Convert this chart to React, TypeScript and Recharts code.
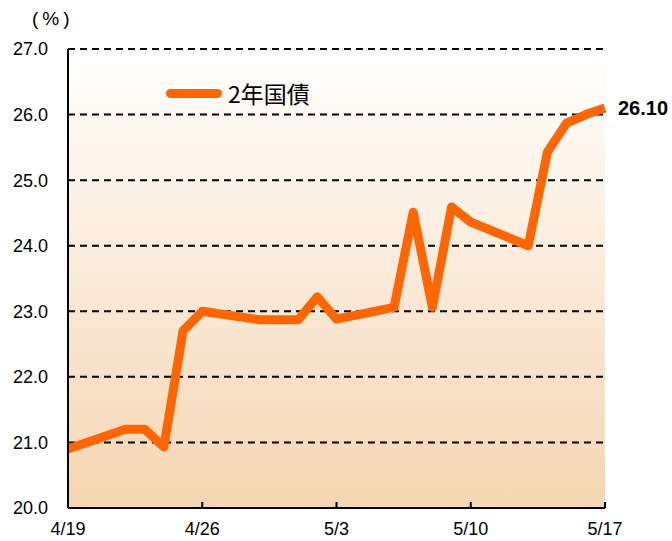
import React from "react";
import {
  LineChart,
  Line,
  XAxis,
  YAxis,
  CartesianGrid,
  LabelList,
} from "recharts";

// trading days (2024), value of 2-year yield (%)
const dates = [
  "4/19", "4/22", "4/23", "4/24", "4/25", "4/26",
  "4/29", "4/30", "5/1", "5/2", "5/3",
  "5/6", "5/7", "5/8", "5/9", "5/10",
  "5/13", "5/14", "5/15", "5/16", "5/17",
];
const yields = [
  20.9, 21.2, 21.2, 20.93, 22.7, 23.0,
  22.87, 22.87, 22.87, 23.22, 22.88,
  23.06, 24.51, 23.06, 24.59, 24.36,
  24.0, 25.43, 25.87, 26.0, 26.1,
];
const xTickLabels = ["4/19", "4/26", "5/3", "5/10", "5/17"];
const yTicks = [20, 21, 22, 23, 24, 25, 26, 27];

const dayOf = (md: string) => {
  const [m, d] = md.split("/").map(Number);
  const t = Date.UTC(2024, m - 1, d);
  return Math.round((t - Date.UTC(2024, 3, 19)) / 86400000);
};

const data = dates.map((d, i) => ({ day: dayOf(d), label: d, value: yields[i] }));
const xTicks = xTickLabels.map(dayOf);

const FONT = "'Liberation Sans', Arial, sans-serif";
const CJK = "'Noto Sans CJK JP', sans-serif";

const XTick = (props: any) => {
  const { x, y, payload, index } = props;
  const label = xTickLabels[xTicks.indexOf(payload.value)];
  return (
    <g>
      {index > 0 && <line x1={x} y1={y} x2={x} y2={y - 6} stroke="#000" strokeWidth={2} />}
      <text x={x} y={y + 27} textAnchor="middle" fontFamily={FONT} fontSize={18} fill="#000">
        {label}
      </text>
    </g>
  );
};

const LastLabel = (props: any) => {
  const { x, y, index, value } = props;
  if (index !== data.length - 1) return null;
  return (
    <text x={x + 13} y={y + 7} fontFamily={FONT} fontSize={20} fontWeight="bold" fill="#000">
      {Number(value).toFixed(2)}
    </text>
  );
};

export default function App() {
  return (
    <div style={{ position: "absolute", left: 0, top: 0, width: 672, height: 541 }}>
      <LineChart
        width={672}
        height={541}
        data={data}
        margin={{ top: 49, right: 67, left: 0, bottom: 0 }}
      >
        <defs>
          <linearGradient id="bg" x1="0" y1="0" x2="0" y2="1">
            <stop offset="0%" stopColor="#FFFFFF" />
            <stop offset="100%" stopColor="#F5D5B2" />
          </linearGradient>
        </defs>
        <CartesianGrid
          vertical={false}
          stroke="#000"
          strokeWidth={2}
          strokeDasharray="7 5"
          fill="url(#bg)"
          fillOpacity={1}
        />
        <XAxis
          dataKey="day"
          type="number"
          domain={[0, 28]}
          ticks={xTicks}
          height={33}
          axisLine={{ stroke: "#000", strokeWidth: 2 }}
          tickLine={false}
          tickSize={0}
          tickMargin={0}
          tick={<XTick />}
          interval={0}
        />
        <YAxis
          domain={[20, 27]}
          ticks={yTicks}
          width={68}
          axisLine={{ stroke: "#000", strokeWidth: 2 }}
          tickLine={false}
          tickSize={0}
          tickMargin={20}
          interval={0}
          tickFormatter={(v: number) => v.toFixed(1)}
          tick={{ fontFamily: FONT, fontSize: 18, fill: "#000" }}
        />
        <Line
          dataKey="value"
          stroke="#FF6600"
          strokeWidth={9}
          strokeLinejoin="round"
          dot={false}
          isAnimationActive={false}
        >
          <LabelList dataKey="value" content={<LastLabel />} />
        </Line>
      </LineChart>
      <div
        style={{
          position: "absolute",
          left: 32,
          top: 7,
          fontFamily: FONT,
          fontSize: 19,
          lineHeight: "24px",
          letterSpacing: 4,
          color: "#000",
        }}
      >
        (%)
      </div>
      <div
        style={{
          position: "absolute",
          left: 166,
          top: 78,
          display: "flex",
          alignItems: "center",
          fontFamily: CJK,
          fontSize: 23,
          lineHeight: "30px",
          color: "#000",
        }}
      >
        <span
          style={{
            display: "inline-block",
            width: 56,
            height: 9,
            borderRadius: 5,
            background: "#FF6600",
            marginRight: 6,
          }}
        />
        2年国債
      </div>
    </div>
  );
}
